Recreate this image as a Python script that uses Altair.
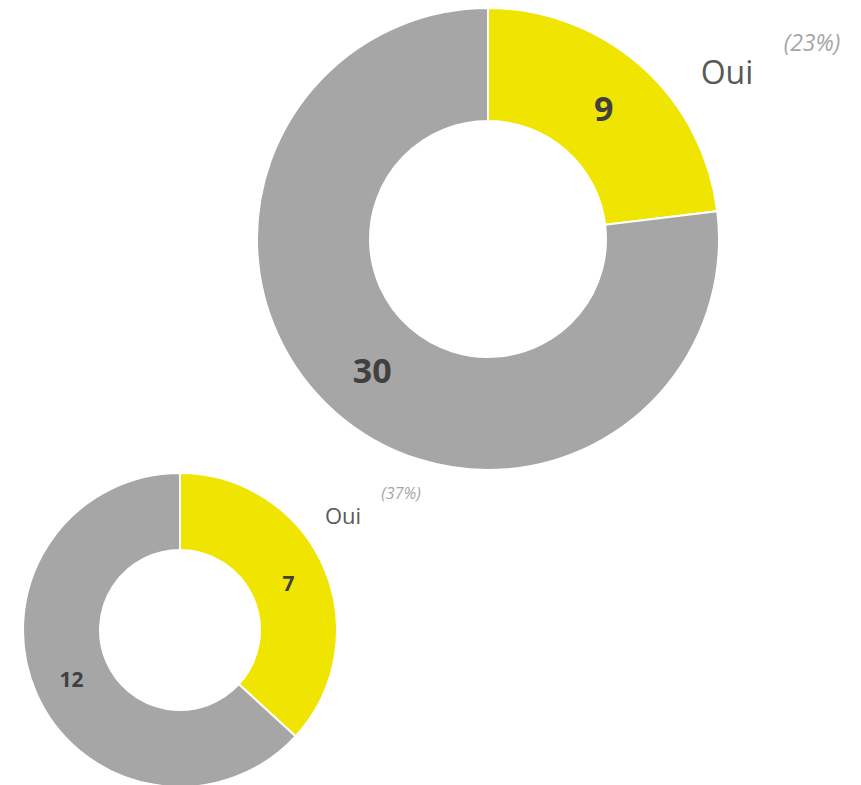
import altair as alt
import pandas as pd

categories = ["Oui", "Non"]
big_values = [9, 30]
small_values = [7, 12]
chart_names = ["big", "small"]

YELLOW = "#F0E500"
GRAY = "#A6A6A6"
FONT = "Open Sans"

rows = []
for name, vals in zip(chart_names, [big_values, small_values]):
    total = sum(vals)
    for i, (c, v) in enumerate(zip(categories, vals)):
        rows.append({"chart": name, "category": c, "value": v, "idx": i,
                     "pct": f"({round(100 * v / total)}%)"})
df = pd.DataFrame(rows)
lab = df[df["category"] == "Oui"].reset_index(drop=True)

color = alt.Color("category:N", scale=alt.Scale(domain=categories, range=[YELLOW, GRAY]), legend=None)
theta = alt.Theta("value:Q", stack="normalize")
order = alt.Order("idx:Q")


def donut(name, cx, cy, r_out, r_in, num_size, num_dy, lab_xy, lab_size, pct_xy, pct_size):
    base = alt.Chart(df).transform_filter(alt.datum.chart == name)
    arc = base.mark_arc(outerRadius=r_out, innerRadius=r_in, stroke="white", strokeWidth=2).encode(
        x=alt.value(cx), y=alt.value(cy), theta=theta, color=color, order=order)
    txt = base.mark_text(radius=(r_out + r_in) / 2, fontSize=num_size, fontWeight="bold",
                         color="#404040", font=FONT, dy=num_dy).encode(
        x=alt.value(cx), y=alt.value(cy), theta=theta, order=order, text="value:Q")
    lbase = alt.Chart(lab).transform_filter(alt.datum.chart == name)
    oui = lbase.mark_text(fontSize=lab_size, color="#595959", font=FONT).encode(
        x=alt.value(lab_xy[0]), y=alt.value(lab_xy[1]), text="category:N")
    pct = lbase.mark_text(fontSize=pct_size, fontStyle="italic", color="#A6A6A6", font=FONT).encode(
        x=alt.value(pct_xy[0]), y=alt.value(pct_xy[1]), text="pct:N")
    return [arc, txt, oui, pct]


layers = donut("big", 480, 231, 231, 118, 34, 3, (719, 66), 32, (804, 36), 23)
layers += donut("small", 172, 622, 157, 80, 21, 3, (335, 509), 22, (393, 486), 16)

chart = alt.layer(*layers).properties(
    width=845, height=777,
    autosize=alt.AutoSizeParams(type="none"),
    padding=0,
).configure_view(stroke=None)

chart.save("out.html", embed_options={"renderer": "svg", "actions": False})
